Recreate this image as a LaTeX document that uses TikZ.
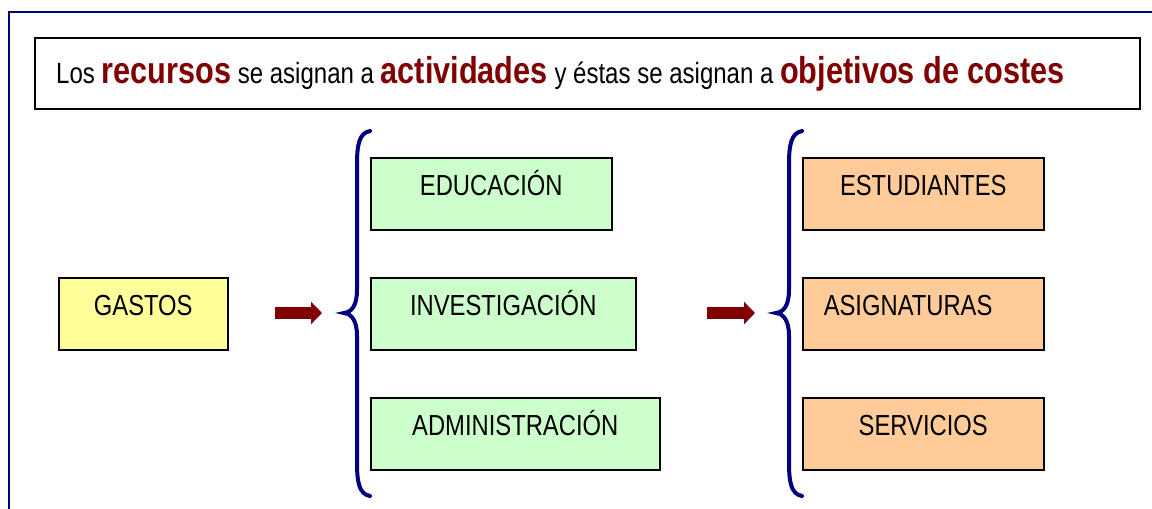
\documentclass[tikz,border=0pt]{standalone}
\usepackage{fontspec}
\setmainfont{Liberation Sans}[FakeStretch=0.82]
\usetikzlibrary{arrows.meta,shadows}
\definecolor{dred}{HTML}{800000}
\definecolor{navyb}{HTML}{000080}
\definecolor{gfill}{HTML}{CCFFCC}
\definecolor{yfill}{HTML}{FFFF99}
\definecolor{ofill}{HTML}{FFCC99}
\tikzset{
  box/.style={draw=black, line width=1.5pt, anchor=north west, inner xsep=0pt, inner ysep=0pt,
    text height=38pt, text depth=34pt, minimum height=72pt,
    font=\fontsize{29}{34}\selectfont, text=black,
    drop shadow={shadow xshift=1.5pt, shadow yshift=-1.5pt, fill=black!35, opacity=1}},
  gbox/.style={box, fill=gfill},
  ybox/.style={box, fill=yfill},
  obox/.style={box, fill=ofill},
  brace/.style={draw=navyb, line width=4pt, line cap=round},
  bigarrow/.style={draw=dred, line width=12pt, -{Triangle[length=11pt,width=22pt]}},
}
\newcommand{\hlword}[1]{{\color{dred}\fontsize{37.4}{40}\selectfont\bfseries #1}}
\begin{document}
\begin{tikzpicture}[x=1pt,y=-1pt]
\useasboundingbox (0,0) rectangle (1152,509);
% frame
\coordinate (fb) at (9,510);
\coordinate (fc) at (9,12);
\coordinate (fr) at (1153,12);
\draw[navyb, line width=2pt] (fb) -- (fc) -- (fr);
% title box
\node[draw=black, line width=1.8pt, anchor=north west, minimum width=1105pt, minimum height=71pt,
  drop shadow={shadow xshift=1.5pt, shadow yshift=-1.5pt, fill=black!35, opacity=1}, fill=white]
  (tbox) at (34,37) {};
\node[anchor=base west, inner sep=0pt, font=\fontsize{29.3}{34}\selectfont] (title) at (56,83)
  {Los \hlword{recursos} se asignan a \hlword{actividades} y éstas se asignan a \hlword{objetivos de costes}};
% boxes
\node[ybox, minimum width=169pt] (gastos) at (58,277) {GASTOS};
\node[gbox, minimum width=241pt] (educ) at (370,157) {EDUCACIÓN};
\node[gbox, minimum width=265pt] (inv) at (370,277) {INVESTIGACIÓN};
\node[gbox, minimum width=289pt] (adm) at (370,397) {ADMINISTRACIÓN};
\node[obox, minimum width=241pt] (est) at (802,157) {ESTUDIANTES};
\node[obox, minimum width=241pt, text width=199pt, inner xsep=21pt, align=left] (asig) at (802,277) {ASIGNATURAS};
\node[obox, minimum width=241pt] (serv) at (802,397) {SERVICIOS};
% braces
\draw[brace] (370,131) .. controls (359,133) and (357,145) .. (357,165) -- (357,290)
  .. controls (357,305) and (352,312) .. (344,313) .. controls (352,314) and (357,321) .. (357,336)
  -- (357,462) .. controls (357,482) and (359,494) .. (370,496);
\draw[brace] (802,131) .. controls (791,133) and (789,145) .. (789,165) -- (789,290)
  .. controls (789,305) and (784,312) .. (776,313) .. controls (784,314) and (789,321) .. (789,336)
  -- (789,462) .. controls (789,482) and (791,494) .. (802,496);
% arrows
\coordinate (a1s) at (275,313);
\coordinate (a1e) at (322,313);
\coordinate (a2s) at (707,313);
\coordinate (a2e) at (755,313);
\draw[bigarrow] (a1s) -- (a1e);
\draw[bigarrow] (a2s) -- (a2e);
\end{tikzpicture}
\end{document}
